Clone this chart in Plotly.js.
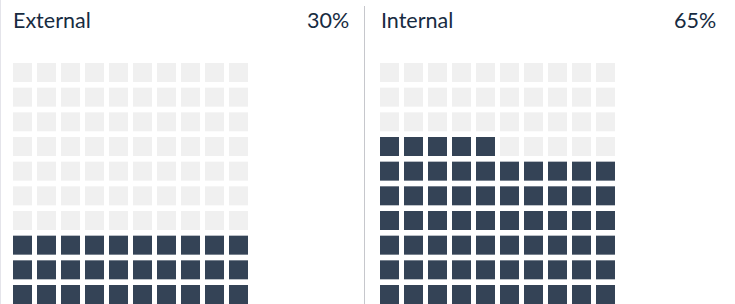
<!DOCTYPE html>
<html>
<head>
<meta charset="utf-8">
<script src="https://cdn.plot.ly/plotly-3.0.1.min.js"></script>
<style>html,body{margin:0;padding:0;background:#fff;}#chart{width:735px;height:304px;}</style>
</head>
<body>
<div id="chart"></div>
<script>
// Data
const categories = ["External", "Internal"];
const percentages = [30, 65];
const gridColumns = 10;
const gridRows = 10;

const filledColor = "#344356";
const emptyColor = "#f0f0f0";
const textColor = "#172b41";

function waffle(pct, xa, ya) {
  const xs = [], ys = [], cs = [];
  // fill from bottom row upward, left to right
  for (let r = 0; r < gridRows; r++) {
    for (let c = 0; c < gridColumns; c++) {
      const idx = r * gridColumns + c;
      xs.push(c);
      ys.push(r);
      cs.push(idx < pct ? filledColor : emptyColor);
    }
  }
  return {
    type: "scatter", mode: "markers", x: xs, y: ys, xaxis: xa, yaxis: ya,
    hoverinfo: "skip", showlegend: false,
    marker: {symbol: "square", size: 19, color: cs, line: {width: 0}}
  };
}

const traces = [
  waffle(percentages[0], "x", "y"),
  waffle(percentages[1], "x2", "y2")
];

const W = 735, H = 304;
const split = 365;
const pitchX = 24, pitchY = 24.67;
function xr(leftCenterPx, lenPx) {
  const x0 = -leftCenterPx / pitchX;
  return [x0, x0 + lenPx / pitchX];
}
const y0 = -9.5 / pitchY;
const yr = [y0, y0 + H / pitchY];
const axBase = {showgrid: false, zeroline: false, showticklabels: false, ticks: "", fixedrange: true, showline: false};

const fontFam = "Lato, 'Open Sans', sans-serif";
const fs = 21.5;
const ty = 1 - 20 / H;
const layout = {
  width: W, height: H,
  margin: {l: 0, r: 0, t: 0, b: 0},
  paper_bgcolor: "#ffffff", plot_bgcolor: "rgba(0,0,0,0)",
  xaxis: Object.assign({}, axBase, {domain: [0, split / W], range: xr(22.5, split)}),
  yaxis: Object.assign({}, axBase, {domain: [0, 1], range: yr}),
  xaxis2: Object.assign({}, axBase, {domain: [split / W, 1], range: xr(24.5, W - split), anchor: "y2"}),
  yaxis2: Object.assign({}, axBase, {domain: [0, 1], range: yr, anchor: "x2"}),
  shapes: [
    {type: "line", xref: "paper", yref: "paper", x0: 0.5 / W, x1: 0.5 / W, y0: 0, y1: 1, line: {color: "#e4e4ea", width: 1}},
    {type: "line", xref: "paper", yref: "paper", x0: 364.5 / W, x1: 364.5 / W, y0: 0, y1: 1 - 6 / H, line: {color: "#c6c7cc", width: 1}}
  ],
  annotations: [
    {text: categories[0], xref: "paper", yref: "paper", x: 11 / W, y: ty, xanchor: "left", yanchor: "middle", showarrow: false, font: {family: fontFam, size: fs, color: textColor}},
    {text: percentages[0] + "%", xref: "paper", yref: "paper", x: 351 / W, y: ty, xanchor: "right", yanchor: "middle", showarrow: false, font: {family: fontFam, size: fs, color: textColor}},
    {text: categories[1], xref: "paper", yref: "paper", x: 379 / W, y: ty, xanchor: "left", yanchor: "middle", showarrow: false, font: {family: fontFam, size: fs, color: textColor}},
    {text: percentages[1] + "%", xref: "paper", yref: "paper", x: 718 / W, y: ty, xanchor: "right", yanchor: "middle", showarrow: false, font: {family: fontFam, size: fs, color: textColor}}
  ]
};

Plotly.newPlot("chart", traces, layout, {displayModeBar: false, staticPlot: true});
</script>
</body>
</html>
